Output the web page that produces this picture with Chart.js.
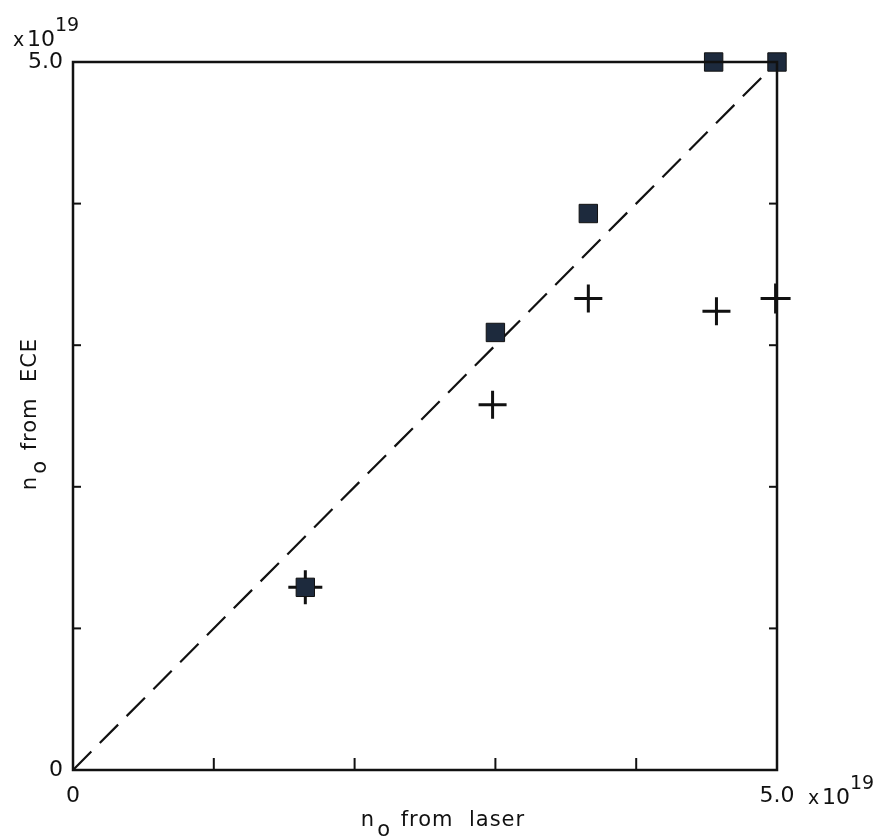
<!DOCTYPE html>
<html><head><meta charset="utf-8">
<script src="https://cdn.jsdelivr.net/npm/chart.js@4/dist/chart.umd.min.js"></script>
<style>html,body{margin:0;padding:0;background:#fff}#wrap{width:877px;height:840px}</style>
</head><body><div id="wrap"><canvas id="c" width="877" height="840"></canvas></div>
<script>
const tickValues = [0, 1, 2, 3, 4, 5];
const tickLabels = {0: '0', 5: '5.0'};
const squareX = [1.65, 3.0, 3.66, 4.55, 5.0];
const squareY = [1.29, 3.09, 3.93, 5.0, 5.0];
const crossX = [1.65, 2.98, 3.66, 4.57, 4.99];
const crossY = [1.29, 2.58, 3.33, 3.24, 3.33];
const diagX = [0, 5];
const diagY = [0, 5];

const FONT = '"DejaVu Sans", "Liberation Sans", sans-serif';
const toPts = (xs, ys) => xs.map((x, i) => ({x, y: ys[i]}));

const framePlugin = {
  id: 'frame',
  afterDraw(chart) {
    const {ctx, chartArea: a, scales: {x, y}} = chart;
    ctx.save();
    ctx.strokeStyle = '#111';
    ctx.lineWidth = 2.5;
    ctx.strokeRect(a.left, a.top, a.right - a.left, a.bottom - a.top);
    ctx.lineWidth = 2;
    tickValues.forEach(v => {
      if (v === 0 || v === 5) return;
      const px = x.getPixelForValue(v);
      ctx.beginPath(); ctx.moveTo(px, a.bottom); ctx.lineTo(px, a.bottom - 12); ctx.stroke();
      const py = y.getPixelForValue(v);
      ctx.beginPath(); ctx.moveTo(a.left, py); ctx.lineTo(a.left + 8, py); ctx.stroke();
      ctx.beginPath(); ctx.moveTo(a.right, py); ctx.lineTo(a.right - 8, py); ctx.stroke();
    });
    ctx.fillStyle = '#111';
    const exp = (xx, yy) => {
      ctx.textAlign = 'left'; ctx.textBaseline = 'alphabetic';
      ctx.font = '19px ' + FONT;
      ctx.fillText('x', xx, yy);
      ctx.font = '22px ' + FONT;
      ctx.fillText('10', xx + 14, yy);
      ctx.font = '19px ' + FONT;
      ctx.fillText('19', xx + 42, yy - 15);
    };
    exp(13, 46);
    exp(808, 804);
    const title = (cx, cy, rot, rest) => {
      ctx.save();
      ctx.translate(cx, cy);
      ctx.rotate(rot);
      ctx.letterSpacing = '1px';
      ctx.font = '21px ' + FONT;
      const wn = ctx.measureText('n').width;
      const wo = ctx.measureText('o').width + 4;
      const wr = ctx.measureText(rest).width;
      const total = wn + wo + wr;
      let sx = -total / 2;
      ctx.textAlign = 'left'; ctx.textBaseline = 'alphabetic';
      ctx.fillText('n', sx, 0);
      ctx.fillText('o', sx + wn + 2, 10);
      ctx.fillText(rest, sx + wn + wo, 0);
      ctx.restore();
    };
    title(443, 826, 0, ' from  laser');
    title(36, 414, -Math.PI / 2, ' from  ECE');
    ctx.restore();
  }
};

new Chart(document.getElementById('c'), {
  type: 'scatter',
  data: {
    datasets: [
      {
        type: 'line', data: toPts(diagX, diagY), borderColor: '#111', borderWidth: 2.2,
        borderDash: [26, 12], pointRadius: 0, fill: false, order: 3
      },
      {
        data: toPts(crossX, crossY), pointStyle: 'cross', pointRadius: [17, 14, 14, 14, 15],
        borderColor: '#111', borderWidth: 3, clip: false, order: 2
      },
      {
        data: toPts(squareX, squareY), pointStyle: 'rect', pointRadius: 13,
        backgroundColor: '#1d2a3d', borderColor: '#111', borderWidth: 1, clip: false, order: 1
      }
    ]
  },
  options: {
    responsive: false, animation: false,
    layout: {padding: {top: 62, right: 100, left: 0, bottom: 0}},
    plugins: {legend: {display: false}, tooltip: {enabled: false}},
    scales: {
      x: {
        type: 'linear', min: 0, max: 5,
        afterFit(s) { s.height = 70; },
        afterBuildTicks(s) { s.ticks = tickValues.map(v => ({value: v})); },
        grid: {display: false, drawTicks: false}, border: {display: false},
        ticks: {
          padding: 13, maxRotation: 0, autoSkip: false, color: '#111',
          font: {family: FONT, size: 22},
          callback: v => tickLabels[v] || ''
        }
      },
      y: {
        type: 'linear', min: 0, max: 5,
        afterFit(s) { s.width = 73; },
        afterBuildTicks(s) { s.ticks = tickValues.map(v => ({value: v})); },
        grid: {display: false, drawTicks: false}, border: {display: false},
        ticks: {
          padding: 10, autoSkip: false, color: '#111',
          font: {family: FONT, size: 22},
          callback: v => tickLabels[v] || ''
        }
      }
    }
  },
  plugins: [framePlugin]
});
</script></body></html>
